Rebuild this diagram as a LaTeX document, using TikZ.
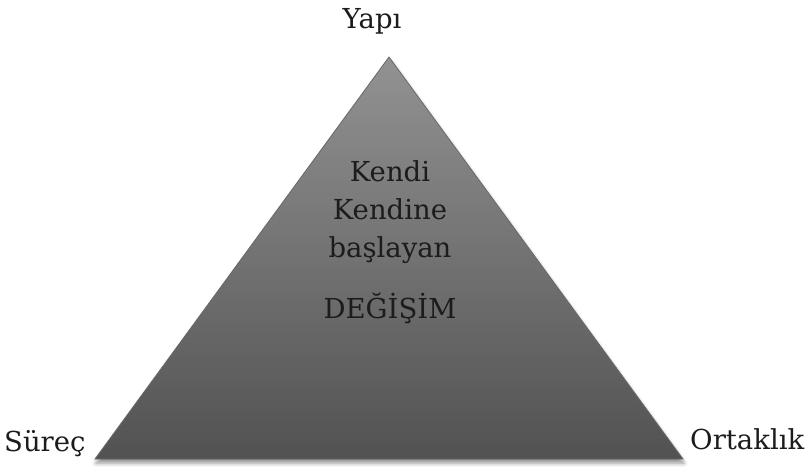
\documentclass[tikz,border=0pt]{standalone}
\usepackage{fontspec}
\setmainfont{DejaVu Serif}
\usetikzlibrary{shadows.blur}
\definecolor{toptri}{HTML}{929292}
\definecolor{bottri}{HTML}{525252}
\definecolor{edgetri}{HTML}{686868}
\definecolor{txt}{HTML}{1C1C1C}
\tikzset{
  lbl/.style={font=\fontsize{27.5}{32}\selectfont, text=txt, inner sep=0pt, anchor=base},
  tri/.style={top color=toptri, bottom color=bottri, draw=edgetri, line width=0.8pt,
    blur shadow={shadow xshift=1pt, shadow yshift=-4pt, shadow blur radius=4pt, shadow opacity=45}}
}
\begin{document}
\begin{tikzpicture}[x=1pt,y=-1pt]
\useasboundingbox (0,0) rectangle (811,467);
\coordinate (apex) at (389,57);
\coordinate (bl) at (95,459);
\coordinate (br) at (683,459);
\path[tri] (apex) -- (br) -- (bl) -- cycle;
\node[lbl] (yapi) at (372,28) {Yapı};
\node[lbl, anchor=base west] (surec) at (4,451) {Süreç};
\node[lbl, anchor=base west] (ortak) at (690,449) {Ortaklık};
\node[lbl] (k1) at (390,181) {Kendi};
\node[lbl] (k2) at (390,219) {Kendine};
\node[lbl] (k3) at (390,257) {başlayan};
\node[lbl] (k4) at (390,318) {DEĞİŞİM};
\end{tikzpicture}
\end{document}
